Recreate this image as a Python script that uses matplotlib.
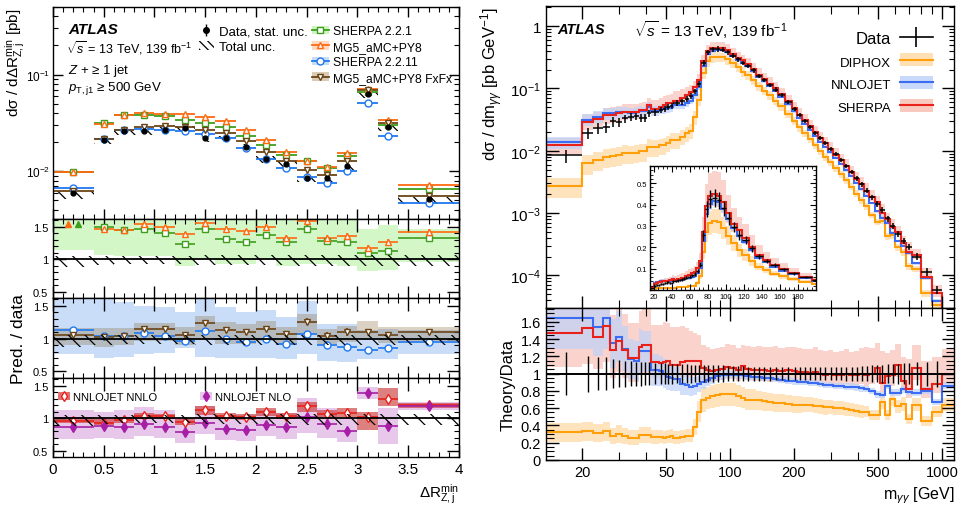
import numpy as np
import matplotlib
matplotlib.use('Agg')
import matplotlib.pyplot as plt
from matplotlib.patches import Patch
from matplotlib.lines import Line2D
from matplotlib.ticker import MultipleLocator, FixedLocator, FixedFormatter, LogLocator, NullFormatter, FuncFormatter

plt.rcParams['font.family'] = ['Liberation Sans', 'DejaVu Sans']
plt.rcParams['mathtext.fontset'] = 'custom'
plt.rcParams['mathtext.rm'] = 'Liberation Sans'
plt.rcParams['mathtext.it'] = 'Liberation Sans:italic'
plt.rcParams['mathtext.bf'] = 'Liberation Sans:bold'
plt.rcParams['hatch.linewidth'] = 0.9
plt.rcParams['hatch.color'] = 'black'
plt.rcParams['axes.linewidth'] = 1.0

# ---------------- left: Z + >=1 jet, dR(Z,j) min ----------------
DR_EDGES = [0, 0.4, 0.6, 0.8, 1.0, 1.2, 1.4, 1.6, 1.8, 2.0, 2.2, 2.4, 2.6, 2.8, 3.0, 3.2, 3.4, 4.0]
DR_DATA = [0.0059, 0.021, 0.026, 0.026, 0.027, 0.028, 0.022, 0.022, 0.018, 0.0135, 0.012, 0.0085, 0.0085, 0.0113, 0.063, 0.029, 0.0051]
DR_STAT = [0.05, 0.03, 0.03, 0.03, 0.03, 0.03, 0.04, 0.04, 0.04, 0.05, 0.05, 0.06, 0.06, 0.05, 0.03, 0.04, 0.06]
DR_TOT_DN = [0.12, 0.09, 0.08, 0.08, 0.08, 0.08, 0.09, 0.09, 0.09, 0.09, 0.09, 0.10, 0.10, 0.10, 0.10, 0.10, 0.10]
DR_TOT_UP = [0.05, 0.05, 0.05, 0.05, 0.05, 0.05, 0.06, 0.06, 0.06, 0.06, 0.06, 0.06, 0.06, 0.06, 0.06, 0.06, 0.06]

SH221 = [0.0097, 0.0316, 0.038, 0.038, 0.037, 0.034, 0.0316, 0.0285, 0.0233, 0.0187, 0.0147, 0.0126, 0.0107, 0.0145, 0.066, 0.030, 0.0066]
MG5 = [0.0097, 0.031, 0.038, 0.040, 0.039, 0.039, 0.036, 0.033, 0.027, 0.021, 0.0157, 0.0129, 0.011, 0.0153, 0.071, 0.034, 0.0072]
SH2211 = [0.0067, 0.0215, 0.027, 0.0275, 0.027, 0.026, 0.0243, 0.022, 0.0173, 0.0133, 0.0108, 0.0087, 0.0075, 0.010, 0.051, 0.023, 0.0047]
FXFX = [0.0062, 0.0215, 0.027, 0.029, 0.0295, 0.029, 0.027, 0.025, 0.0206, 0.0157, 0.0126, 0.0103, 0.0091, 0.0126, 0.069, 0.0316, 0.0056]

R_SH221 = [1.64, 1.50, 1.45, 1.47, 1.41, 1.24, 1.46, 1.31, 1.27, 1.37, 1.26, 1.47, 1.28, 1.26, 1.09, 1.13, 1.33]
R_MG5 = [1.66, 1.46, 1.45, 1.55, 1.49, 1.39, 1.56, 1.47, 1.43, 1.50, 1.33, 1.59, 1.32, 1.35, 1.18, 1.26, 1.42]
SH221_LO = [1.14, 1.07, 1.05, 1.05, 1.05, 0.89, 1.00, 0.93, 0.93, 1.00, 0.90, 0.92, 0.92, 0.90, 0.81, 0.84, 0.95]
SH221_HI = [1.65, 1.65, 1.65, 1.65, 1.65, 1.60, 1.65, 1.65, 1.60, 1.65, 1.60, 1.65, 1.62, 1.60, 1.46, 1.52, 1.46]

R_SH2211 = [1.13, 1.04, 1.04, 1.08, 1.04, 0.96, 1.11, 0.99, 0.95, 1.00, 0.92, 1.07, 0.90, 0.87, 0.82, 0.85, 0.95]
R_FXFX = [1.06, 1.03, 1.04, 1.14, 1.14, 1.06, 1.24, 1.13, 1.10, 1.15, 1.07, 1.26, 1.04, 1.10, 1.10, 1.05, 1.10]
SH2211_LO = [0.77, 0.71, 0.72, 0.76, 0.78, 0.85, 0.72, 0.71, 0.70, 0.71, 0.69, 0.77, 0.66, 0.65, 0.69, 0.69, 0.77]
SH2211_HI = [1.60, 1.60, 1.56, 1.50, 1.49, 1.41, 1.60, 1.49, 1.41, 1.43, 1.33, 1.58, 1.23, 1.23, 1.13, 1.15, 1.13]
FXFX_LO = [0.90, 0.88, 0.90, 0.96, 0.96, 0.90, 1.00, 0.92, 0.92, 0.96, 0.90, 1.05, 0.90, 0.95, 1.00, 0.93, 0.96]
FXFX_HI = [1.17, 1.17, 1.17, 1.24, 1.24, 1.18, 1.35, 1.25, 1.22, 1.27, 1.18, 1.38, 1.15, 1.20, 1.27, 1.18, 1.18]

R_NNLO = [0.96, 0.92, 0.97, 1.04, 1.03, 0.94, 1.12, 1.04, 1.02, 1.09, 1.04, 1.18, 1.07, 1.08, 1.02, 1.29, 1.20]
R_NLO = [0.87, 0.88, 0.87, 0.91, 0.87, 0.78, 0.93, 0.83, 0.82, 0.90, 0.86, 1.01, 0.91, 0.80, 1.39, 0.88, 1.18]
NNLO_LO = [0.92, 0.89, 0.93, 0.99, 0.98, 0.90, 1.05, 0.99, 0.97, 1.04, 0.99, 1.10, 1.02, 1.02, 0.82, 1.19, 1.15]
NNLO_HI = [1.02, 0.99, 1.01, 1.08, 1.07, 0.99, 1.18, 1.08, 1.06, 1.15, 1.08, 1.25, 1.12, 1.15, 1.10, 1.47, 1.24]
NLO_LO = [0.67, 0.70, 0.68, 0.73, 0.70, 0.62, 0.75, 0.66, 0.65, 0.72, 0.68, 0.77, 0.70, 0.63, 1.30, 0.60, 1.12]
NLO_HI = [1.12, 1.10, 1.12, 1.17, 1.13, 1.00, 1.18, 1.05, 1.05, 1.12, 1.08, 1.31, 1.15, 1.00, 1.48, 1.15, 1.25]
MODEL_STAT = [0.03, 0.03, 0.03, 0.03, 0.03, 0.03, 0.04, 0.04, 0.04, 0.04, 0.05, 0.05, 0.06, 0.06, 0.04, 0.05, 0.05]

# ---------------- right: diphoton mass ----------------
M_EDGES = [13.5, 20, 22.5, 25, 27, 29, 31, 33, 35, 37,
           38.5, 40.5, 42.5, 46, 48, 50, 52, 54, 58, 61,
           64, 67, 70, 73, 77, 80.5, 85, 90, 95, 100,
           106, 112, 118, 126, 132, 141, 149, 159, 169, 181,
           196, 207, 219, 232, 245, 259, 274, 290, 307, 325,
           344, 364, 385, 407, 430, 455, 481, 509, 538, 569,
           602, 640, 680, 720, 800, 900, 1000, 1140]
MYY_DATA = [0.0084, 0.0192, 0.023, 0.024, 0.0295, 0.029, 0.033, 0.035, 0.036, 0.034,
            0.034, 0.040, 0.042, 0.045, 0.047, 0.050, 0.053, 0.058, 0.062, 0.068,
            0.075, 0.090, 0.118, 0.255, 0.38, 0.425, 0.43, 0.42, 0.383, 0.335,
            0.295, 0.258, 0.232, 0.195, 0.158, 0.136, 0.115, 0.096, 0.078, 0.060,
            0.047, 0.037, 0.030, 0.0243, 0.0194, 0.0159, 0.0132, 0.0108, 0.0088, 0.0071,
            0.0057, 0.0046, 0.0036, 0.0029, 0.0023, 0.0018, 0.0014, 0.00112, 0.00082, 0.00062,
            0.00046, 0.00036, 0.00029, 0.00020, 0.000115, 0.000059, 0.00002]
MYY_ERR = [0.245, 0.21, 0.19, 0.19, 0.17, 0.16, 0.15, 0.145, 0.14, 0.14,
           0.135, 0.13, 0.125, 0.12, 0.12, 0.115, 0.115, 0.11, 0.11, 0.11,
           0.105, 0.10, 0.10, 0.10, 0.10, 0.10, 0.095, 0.095, 0.09, 0.09,
           0.085, 0.085, 0.08, 0.08, 0.08, 0.08, 0.08, 0.078, 0.078, 0.078,
           0.077, 0.077, 0.077, 0.077, 0.077, 0.077, 0.077, 0.077, 0.077, 0.077,
           0.08, 0.08, 0.082, 0.085, 0.09, 0.095, 0.10, 0.105, 0.11, 0.11,
           0.115, 0.12, 0.12, 0.13, 0.14, 0.15, 0.0]
R_NNLOJET = [1.65, 1.65, 1.54, 1.65, 1.35, 1.43, 1.29, 1.17, 1.15, 1.26,
             1.26, 1.26, 1.04, 1.03, 1.00, 0.96, 0.95, 0.94, 0.88, 0.87,
             0.85, 0.86, 0.88, 0.90, 0.93, 0.95, 0.97, 0.98, 0.99, 0.99,
             0.98, 0.98, 0.97, 0.96, 0.96, 0.95, 0.95, 0.94, 0.93, 0.92,
             0.91, 0.90, 0.90, 0.89, 0.89, 0.88, 0.87, 0.87, 0.86, 0.86,
             0.85, 0.85, 0.84, 0.83, 0.82, 0.80, 0.76, 0.75, 0.86, 0.78,
             0.78, 0.82, 0.79, 0.78, 0.80, 0.67, 0.86]
R_SHERPA = [1.47, 1.53, 1.42, 1.55, 1.27, 1.38, 1.27, 1.18, 1.18, 1.31,
            1.33, 1.33, 1.13, 1.12, 1.14, 1.15, 1.10, 1.10, 1.14, 1.15,
            1.15, 1.15, 1.15, 1.06, 1.04, 1.03, 1.04, 1.05, 1.08, 1.07,
            1.04, 1.09, 1.05, 1.04, 1.04, 1.04, 1.03, 1.04, 1.03, 1.04,
            1.03, 1.02, 1.02, 1.01, 1.02, 1.00, 0.99, 1.00, 0.98, 0.99,
            1.00, 0.98, 0.99, 1.00, 0.98, 1.00, 1.06, 0.89, 0.97, 0.98,
            1.10, 0.92, 0.82, 1.07, 0.82, 0.88, 1.00]
R_DIPHOX = [0.32, 0.33, 0.31, 0.33, 0.28, 0.30, 0.28, 0.26, 0.26, 0.29,
            0.29, 0.29, 0.27, 0.27, 0.26, 0.27, 0.28, 0.26, 0.27, 0.28,
            0.28, 0.38, 0.56, 0.70, 0.72, 0.74, 0.75, 0.76, 0.76, 0.76,
            0.74, 0.72, 0.70, 0.70, 0.69, 0.68, 0.67, 0.66, 0.66, 0.65,
            0.64, 0.64, 0.64, 0.64, 0.63, 0.62, 0.61, 0.61, 0.60, 0.60,
            0.59, 0.58, 0.57, 0.56, 0.56, 0.52, 0.52, 0.67, 0.52, 0.71,
            0.62, 0.65, 0.48, 0.64, 0.45, 0.56, 0.64]
NNLOJET_UNC = [0.22, 0.22, 0.22, 0.22, 0.21, 0.21, 0.20, 0.20, 0.20, 0.20,
               0.19, 0.19, 0.18, 0.17, 0.17, 0.16, 0.16, 0.15, 0.15, 0.14,
               0.13, 0.12, 0.10, 0.09, 0.08, 0.07, 0.06, 0.05, 0.05, 0.045,
               0.04, 0.04, 0.04, 0.04, 0.04, 0.04, 0.04, 0.04, 0.04, 0.04,
               0.04, 0.04, 0.04, 0.04, 0.04, 0.04, 0.04, 0.04, 0.04, 0.04,
               0.045, 0.045, 0.045, 0.045, 0.045, 0.045, 0.05, 0.05, 0.05, 0.05,
               0.05, 0.05, 0.05, 0.05, 0.05, 0.05, 0.05]
SHERPA_UP = [0.30, 0.30, 0.30, 0.30, 0.32, 0.32, 0.33, 0.34, 0.34, 0.32,
             0.32, 0.32, 0.38, 0.40, 0.40, 0.38, 0.40, 0.40, 0.36, 0.33,
             0.30, 0.28, 0.26, 0.26, 0.26, 0.25, 0.25, 0.25, 0.24, 0.24,
             0.25, 0.22, 0.26, 0.26, 0.27, 0.26, 0.27, 0.27, 0.26, 0.26,
             0.27, 0.27, 0.26, 0.27, 0.28, 0.27, 0.28, 0.27, 0.28, 0.28,
             0.29, 0.28, 0.28, 0.30, 0.33, 0.30, 0.28, 0.42, 0.28, 0.30,
             0.22, 0.30, 0.42, 0.24, 0.40, 0.35, 0.28]
SHERPA_DN = [0.27, 0.27, 0.26, 0.27, 0.25, 0.26, 0.25, 0.23, 0.23, 0.25,
             0.25, 0.25, 0.16, 0.16, 0.16, 0.16, 0.15, 0.15, 0.16, 0.16,
             0.16, 0.15, 0.14, 0.13, 0.12, 0.12, 0.12, 0.12, 0.12, 0.12,
             0.12, 0.12, 0.12, 0.12, 0.12, 0.12, 0.12, 0.12, 0.12, 0.12,
             0.12, 0.12, 0.12, 0.12, 0.12, 0.12, 0.12, 0.12, 0.12, 0.12,
             0.12, 0.12, 0.12, 0.12, 0.12, 0.12, 0.13, 0.12, 0.12, 0.12,
             0.13, 0.12, 0.12, 0.13, 0.12, 0.12, 0.12]
DIPHOX_UNC = [0.35, 0.35, 0.34, 0.34, 0.34, 0.34, 0.33, 0.33, 0.33, 0.32,
              0.32, 0.31, 0.30, 0.29, 0.29, 0.28, 0.28, 0.28, 0.27, 0.27,
              0.27, 0.25, 0.22, 0.20, 0.18, 0.18, 0.18, 0.18, 0.18, 0.18,
              0.17, 0.17, 0.17, 0.17, 0.16, 0.16, 0.16, 0.16, 0.15, 0.15,
              0.15, 0.15, 0.14, 0.14, 0.14, 0.14, 0.14, 0.13, 0.13, 0.13,
              0.13, 0.13, 0.13, 0.13, 0.12, 0.12, 0.12, 0.12, 0.12, 0.12,
              0.12, 0.12, 0.12, 0.12, 0.12, 0.12, 0.12]

GREEN = '#3f9e1f'
ORANGE = '#ff6a10'
BLUE = '#1f78f0'
BROWN = '#6b4416'
RED = '#e8221a'
PURPLE = '#a61fa6'
HATCH = '\\\\'


def atlas_ticks(ax):
    ax.tick_params(which='both', direction='in', top=True, right=True)
    ax.tick_params(which='major', length=7, width=1)
    ax.tick_params(which='minor', length=3.5, width=0.8)


fig = plt.figure(figsize=(9.58, 5.10), dpi=100)

# ======================= left panel =======================
e = np.array(DR_EDGES)
dr_c = 0.5 * (e[1:] + e[:-1])
dr_hw = 0.5 * np.diff(e)
data = np.array(DR_DATA)

axm = fig.add_axes([0.0553, 0.5686, 0.4238, 0.4157])
axr1 = fig.add_axes([0.0553, 0.4137, 0.4238, 0.1549], sharex=axm)
axr2 = fig.add_axes([0.0553, 0.2569, 0.4238, 0.1568], sharex=axm)
axr3 = fig.add_axes([0.0553, 0.1020, 0.4238, 0.1549], sharex=axm)

axm.set_yscale('log')
axm.stairs(data * (1 + np.array(DR_TOT_UP)), e, baseline=data * (1 - np.array(DR_TOT_DN)),
           fill=True, facecolor='none', edgecolor='k', hatch=HATCH, lw=0)
for vals, col, mk in [(SH221, GREEN, 's'), (MG5, ORANGE, '^'), (SH2211, BLUE, 'o'), (FXFX, BROWN, 'v')]:
    axm.errorbar(dr_c, vals, xerr=dr_hw, fmt=mk, color=col, mfc='white', mec=col, ms=5, mew=1,
                 elinewidth=1.3, capsize=0)
axm.errorbar(dr_c, data, yerr=data * np.array(DR_STAT), fmt='o', color='k', ms=3.5, elinewidth=1, capsize=0)
axm.set_ylim(3.2e-3, 0.5)
axm.set_xlim(0, 4)
axm.set_ylabel('dσ / dΔR$^{\\rm min}_{\\rm Z,j}$ [pb]', fontsize=11, loc='top')
axm.yaxis.set_label_coords(-0.063, 1.0)
axm.tick_params(labelbottom=False, labelsize=8.5)
axm.tick_params(axis='y', pad=2)

axm.text(0.037, 0.896, 'ATLAS', transform=axm.transAxes, fontsize=11, fontweight='bold', fontstyle='italic', va='center')
axm.text(0.032, 0.811, '$\\sqrt{s}$ = 13 TeV, 139 fb$^{-1}$', transform=axm.transAxes, fontsize=9, va='center')
axm.text(0.037, 0.703, '$Z$ + ≥ 1 jet', transform=axm.transAxes, fontsize=9.5, va='center')
axm.text(0.037, 0.618, '$p_{\\rm T,j1}$ ≥ 500 GeV', transform=axm.transAxes, fontsize=9.5, va='center')

h_data = (Line2D([], [], color='k', marker='|', ms=8, ls='none'), Line2D([], [], color='k', marker='o', ms=4, ls='none'))
h_tot = Patch(facecolor='none', edgecolor='k', hatch='\\\\\\\\', lw=0)
leg1 = axm.legend([h_data, h_tot], ['Data, stat. unc.', 'Total unc.'], loc='upper left',
                  bbox_to_anchor=(0.36, 0.915), frameon=False, fontsize=9.5, borderpad=0, borderaxespad=0,
                  handlelength=1.1, handletextpad=0.4, labelspacing=0.3)
axm.add_artist(leg1)


def mhandle(col, band, mk):
    return (Patch(facecolor=band, edgecolor='none'),
            Line2D([], [], color=col, marker=mk, mfc='white', mec=col, ms=5, lw=1.3))


leg2 = axm.legend([mhandle(GREEN, '#cdf3bf', 's'), mhandle(ORANGE, '#ffd9c2', '^'),
                   mhandle(BLUE, '#c6dcf8', 'o'), mhandle(BROWN, '#d9cbb5', 'v')],
                  ['SHERPA 2.2.1', 'MG5_aMC+PY8', 'SHERPA 2.2.11', 'MG5_aMC+PY8 FxFx'],
                  loc='upper left', bbox_to_anchor=(0.638, 0.915), frameon=False, fontsize=8.7,
                  borderpad=0, borderaxespad=0, handlelength=1.4, handletextpad=0.3, labelspacing=0.3)


def ratio_points(ax, vals, col, mk, filled=False, off=0.0):
    v = np.array(vals)
    ok = v < 1.6
    ax.errorbar(dr_c[ok], v[ok], xerr=dr_hw[ok], yerr=np.array(MODEL_STAT)[ok], fmt=mk, color=col,
                mfc=col if filled else 'white', mec=col, ms=5, mew=1, elinewidth=1.2, capsize=0)
    for c in dr_c[~ok]:
        ax.plot(c + off, 1.55, marker='^', color=col, ms=5, ls='none')


def ratio_frame(ax):
    ax.stairs(1 + np.array(DR_TOT_UP), e, baseline=1 - np.array(DR_TOT_DN), fill=True,
              facecolor='none', edgecolor='k', hatch=HATCH, lw=0, zorder=3)
    ax.axhline(1, color='k', lw=1.3, zorder=4)
    ax.set_ylim(0.4, 1.62)
    ax.yaxis.set_major_locator(FixedLocator([0.5, 1, 1.5]))
    ax.yaxis.set_major_formatter(FixedFormatter(['0.5', '1', '1.5']))
    ax.yaxis.set_minor_locator(MultipleLocator(0.1))
    ax.xaxis.set_major_locator(MultipleLocator(0.5))
    ax.xaxis.set_minor_locator(MultipleLocator(0.1))
    ax.xaxis.set_major_formatter(FuncFormatter(lambda v, p: '%g' % v))
    atlas_ticks(ax)
    ax.tick_params(which='major', length=9)
    ax.tick_params(axis='y', labelsize=8)


# panel 1
axr1.stairs(SH221_HI, e, baseline=SH221_LO, fill=True, color='#d4f7c8', lw=0)
ratio_frame(axr1)
ratio_points(axr1, R_SH221, GREEN, 's', off=0.05)
ratio_points(axr1, R_MG5, ORANGE, '^', off=-0.05)
axr1.tick_params(labelbottom=False)

# panel 2
axr2.stairs(SH2211_HI, e, baseline=SH2211_LO, fill=True, color='#c9ddf8', lw=0)
axr2.stairs(FXFX_HI, e, baseline=FXFX_LO, fill=True, color='#8a6a3a', alpha=0.3, lw=0)
ratio_frame(axr2)
ratio_points(axr2, R_SH2211, BLUE, 'o')
ratio_points(axr2, R_FXFX, BROWN, 'v')
axr2.tick_params(labelbottom=False)

# panel 3
axr3.stairs(NLO_HI, e, baseline=NLO_LO, fill=True, color='#e8c8ea', lw=0)
axr3.stairs(NNLO_HI, e, baseline=NNLO_LO, fill=True, color='#cc3c3c', alpha=0.65, lw=0)
ratio_frame(axr3)
ratio_points(axr3, R_NNLO, RED, 'd')
ratio_points(axr3, R_NLO, PURPLE, 'd', filled=True)
axr3.tick_params(axis='x', labelsize=11)
axr3.set_xlabel('ΔR$^{\\rm min}_{\\rm Z,j}$', fontsize=11, loc='right')
leg3 = axr3.legend([(Patch(facecolor='#e07070', edgecolor='none'),
                     Line2D([], [], color=RED, marker='d', mfc='white', ms=5, ls='none')),
                    (Patch(facecolor='#e8c8ea', edgecolor='none'),
                     Line2D([], [], color=PURPLE, marker='d', ms=5, ls='none'))],
                   ['NNLOJET NNLO', 'NNLOJET NLO'], ncol=2, loc='upper left', bbox_to_anchor=(0.012, 0.82),
                   frameon=False, fontsize=8, borderpad=0, borderaxespad=0, handlelength=1.1,
                   handletextpad=0.3, columnspacing=3.8)
leg3.set_zorder(6)

atlas_ticks(axm)
axm.xaxis.set_minor_locator(MultipleLocator(0.1))
axm.xaxis.set_major_locator(MultipleLocator(0.5))
fig.text(0.019, 0.335, 'Pred. / data', rotation=90, fontsize=12.5, ha='center', va='center')

# ======================= right panel =======================
me = np.array(M_EDGES)
m_c = 0.5 * (me[1:] + me[:-1])
m_lo = m_c - me[:-1]
m_hi = me[1:] - m_c
mdata = np.array(MYY_DATA)
merr = np.array(MYY_ERR)

theories = [
    (np.array(R_DIPHOX), np.array(DIPHOX_UNC), np.array(DIPHOX_UNC), '#ff9f0a', '#ffe0b5', 0.9),
    (np.array(R_SHERPA), np.array(SHERPA_UP), np.array(SHERPA_DN), RED, '#f7b7ab', 0.6),
    (np.array(R_NNLOJET), np.array(NNLOJET_UNC), np.array(NNLOJET_UNC), '#3b6cf2', '#bfd2fb', 0.7),
]

axR = fig.add_axes([0.5699, 0.3941, 0.4259, 0.5922])
axRr = fig.add_axes([0.5699, 0.0961, 0.4259, 0.2980], sharex=axR)
axIn = fig.add_axes([0.6785, 0.4294, 0.1733, 0.2431])

for ax, scale in [(axR, 'main'), (axIn, 'main'), (axRr, 'ratio')]:
    for r, up, dn, col, band, alp in theories:
        if scale == 'main':
            vals = mdata * r
        else:
            vals = r
        ax.stairs(vals * (1 + up), me, baseline=vals * (1 - dn), fill=True, color=band, alpha=alp, lw=0)
    for r, up, dn, col, band, alp in [theories[0], theories[2], theories[1]]:
        vals = mdata * r if scale == 'main' else r
        ax.stairs(vals, me, baseline=None, color=col, lw=1.5)

axR.errorbar(m_c, mdata, xerr=[m_lo, m_hi], yerr=mdata * merr, fmt='none', ecolor='k', elinewidth=1.1)
axIn.errorbar(m_c, mdata, xerr=[m_lo, m_hi], yerr=mdata * merr, fmt='none', ecolor='k', elinewidth=1.0)
axRr.errorbar(m_c, np.ones_like(m_c), yerr=merr, fmt='none', ecolor='k', elinewidth=1.0)
axRr.axhline(1, color='k', lw=1.4)

axR.set_xscale('log')
axR.set_yscale('log')
axR.set_xlim(13.5, 1140)
axR.set_ylim(3e-5, 2.1)
axR.yaxis.set_major_locator(LogLocator(base=10, numticks=10))
axR.yaxis.set_minor_locator(LogLocator(base=10, subs=np.arange(2, 10), numticks=20))
axR.yaxis.set_major_formatter(FuncFormatter(lambda v, p: '1' if abs(v - 1) < 1e-9 else '$10^{%d}$' % round(np.log10(v))))
axR.yaxis.set_minor_formatter(NullFormatter())
atlas_ticks(axR)
axR.tick_params(which='major', length=9)
axR.tick_params(labelbottom=False, labelsize=11)
axR.set_ylabel('dσ / dm$_{\\gamma\\gamma}$ [pb GeV$^{-1}$]', fontsize=12, loc='top')

axRr.set_ylim(0, 1.76)
axRr.yaxis.set_major_locator(MultipleLocator(0.2))
axRr.yaxis.set_minor_locator(MultipleLocator(0.05))
axRr.yaxis.set_major_formatter(FuncFormatter(lambda v, p: '%g' % round(v, 1)))
axRr.xaxis.set_major_locator(FixedLocator([20, 50, 100, 200, 500, 1000]))
axRr.xaxis.set_major_formatter(FixedFormatter(['20', '50', '100', '200', '500', '1000']))
axRr.xaxis.set_minor_locator(FixedLocator([30, 40, 60, 70, 80, 90, 300, 400, 600, 700, 800, 900]))
axRr.xaxis.set_minor_formatter(NullFormatter())
atlas_ticks(axRr)
axRr.tick_params(which='major', length=9)
axRr.tick_params(which='minor', length=6)
axRr.tick_params(labelsize=10.5)
axRr.set_ylabel('Theory/Data', fontsize=12)
axRr.set_xlabel('m$_{\\gamma\\gamma}$ [GeV]', fontsize=11.5, loc='right')
axR.tick_params(axis='x', which='minor', length=6)

axIn.set_xlim(15.6, 200)
axIn.set_ylim(0, 0.58)
axIn.xaxis.set_major_locator(FixedLocator([20, 40, 60, 80, 100, 120, 140, 160, 180]))
axIn.xaxis.set_minor_locator(MultipleLocator(5))
axIn.yaxis.set_major_locator(FixedLocator([0.1, 0.2, 0.3, 0.4, 0.5]))
axIn.yaxis.set_minor_locator(MultipleLocator(0.02))
axIn.tick_params(which='both', direction='in', top=True, right=True, labelsize=5.5, pad=2)
axIn.tick_params(which='major', length=4)
axIn.tick_params(which='minor', length=2)

axR.text(0.027, 0.924, 'ATLAS', transform=axR.transAxes, fontsize=10.5, fontweight='bold', fontstyle='italic', va='center')
axR.text(0.215, 0.924, '$\\sqrt{s}$ = 13 TeV, 139 fb$^{-1}$', transform=axR.transAxes, fontsize=11, va='center')

hR = [(Line2D([], [], color='k', lw=1.2), Line2D([], [], color='k', marker='|', ms=14, mew=1.2, ls='none')),
      (Patch(facecolor='#ffe0b5', edgecolor='none'), Line2D([], [], color='#ff9f0a', lw=1.5)),
      (Patch(facecolor='#c9d9fb', edgecolor='none'), Line2D([], [], color='#3b6cf2', lw=1.5)),
      (Patch(facecolor='#f9c9c0', edgecolor='none'), Line2D([], [], color=RED, lw=1.5))]
legR = axR.legend(hR, ['Data', 'DIPHOX', 'NNLOJET', 'SHERPA'], loc='upper right', bbox_to_anchor=(0.9485, 0.918),
                  markerfirst=False, frameon=False, fontsize=12, borderpad=0, borderaxespad=0,
                  handlelength=2.0, handleheight=0.8, handletextpad=0.5, labelspacing=0.45)
for t in legR.get_texts()[1:]:
    t.set_fontsize(9.5)

fig.savefig('out.png', dpi=100)
